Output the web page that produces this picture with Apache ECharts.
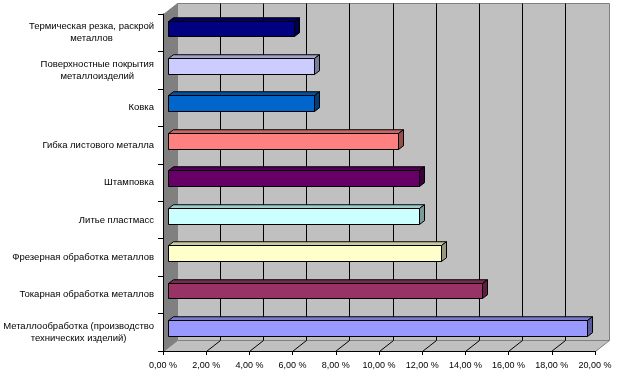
<!DOCTYPE html>
<html><head><meta charset="utf-8">
<script src="https://cdn.jsdelivr.net/npm/echarts@6/dist/echarts.min.js"></script>
<style>html,body{margin:0;padding:0;background:#fff}#c{width:617px;height:376px}</style>
</head><body><div id="c"></div>
<script>
// ---- data ----
const categories = [
  'Термическая резка, раскрой\nметаллов',
  'Поверхностные покрытия\nметаллоизделий',
  'Ковка',
  'Гибка листового металла',
  'Штамповка',
  'Литье пластмасс',
  'Фрезерная обработка металлов',
  'Токарная обработка металлов',
  'Металлообработка (производство\nтехнических изделий)'
];
const values = [5.85, 6.8, 6.8, 10.65, 11.65, 11.65, 12.65, 14.55, 19.4];
const barColors = ['#000080', '#CCCCFF', '#0066CC', '#FF8080', '#660066', '#CCFFFF', '#FFFFCC', '#993366', '#9999FF'];
const xTicks = [0, 2, 4, 6, 8, 10, 12, 14, 16, 18, 20];
const xTickLabels = ['0,00 %', '2,00 %', '4,00 %', '6,00 %', '8,00 %', '10,00 %', '12,00 %', '14,00 %', '16,00 %', '18,00 %', '20,00 %'];

// ---- styling ----
const FONT = 'Arial, "Liberation Sans", sans-serif';
const DEPTH = [14, -10.5];
const BAR_FRONT = [5, -3.75];
const BAR_DEPTH = [5, -3.75];

function shade(hex, f) {
  const n = parseInt(hex.slice(1), 16);
  const r = Math.round(((n >> 16) & 255) * f), g = Math.round(((n >> 8) & 255) * f), b = Math.round((n & 255) * f);
  return 'rgb(' + r + ',' + g + ',' + b + ')';
}
const px = v => Math.round(v - 0.5) + 0.5;

const wallSeries = {
  type: 'custom', z: 1, silent: true, clip: false,
  data: [[0, 0]],
  encode: { x: 0, y: 1 },
  renderItem: function (params, api) {
    const band = api.size([0, 1])[1];
    const p0 = api.coord([0, 0]);
    const pN = api.coord([0, categories.length - 1]);
    const top = p0[1] - band / 2, bot = pN[1] + band / 2;
    const left = p0[0], right = api.coord([xTicks[xTicks.length - 1], 0])[0];
    const dx = DEPTH[0], dy = DEPTH[1];
    const L = px(left), R = px(right), T = px(top), B = px(bot);
    const bT = px(top + dy), bB = px(bot + dy), bL = px(left + dx), bR = px(right + dx);
    const children = [
      { type: 'polygon', shape: { points: [[bL, bT], [bR, bT], [bR, bB], [bL, bB]] }, style: { fill: '#C0C0C0', stroke: '#808080', lineWidth: 1 } },
      { type: 'polygon', shape: { points: [[L, T], [bL, bT], [bL, bB], [L, B]] }, style: { fill: '#808080', stroke: '#808080', lineWidth: 1 } },
      { type: 'polygon', shape: { points: [[L, B], [R, B], [bR, bB], [bL, bB]] }, style: { fill: '#C0C0C0', stroke: '#808080', lineWidth: 1 } }
    ];
    xTicks.forEach(function (v, k) {
      if (k === 0 || k === xTicks.length - 1) return;
      const x = api.coord([v, 0])[0];
      children.push({ type: 'line', shape: { x1: px(x + dx), y1: bT, x2: px(x + dx), y2: bB }, style: { stroke: '#000', lineWidth: 1 } });
      children.push({ type: 'line', shape: { x1: px(x), y1: B, x2: px(x + dx), y2: bB }, style: { stroke: '#000', lineWidth: 1 } });
    });
    return { type: 'group', children: children };
  }
};

const barSeries = {
  type: 'custom', z: 3, clip: false,
  data: values.map((v, i) => [v, i]),
  encode: { x: 0, y: 1 },
  renderItem: function (params, api) {
    const v = api.value(0), i = api.value(1);
    const base = api.coord([0, i]);
    const end = api.coord([v, i]);
    const band = api.size([0, 1])[1];
    const h = band * 0.42;
    const x0 = px(base[0] + BAR_FRONT[0]), x1 = px(end[0] + BAR_FRONT[0]);
    const yT = px(base[1] + BAR_FRONT[1] - h / 2), yB = px(base[1] + BAR_FRONT[1] + h / 2);
    const dx = BAR_DEPTH[0], dy = BAR_DEPTH[1];
    const c = barColors[i];
    const st = { stroke: '#000', lineWidth: 1 };
    return {
      type: 'group', children: [
        { type: 'polygon', shape: { points: [[x0, yT], [x1, yT], [x1 + dx, yT + dy], [x0 + dx, yT + dy]] }, style: Object.assign({ fill: shade(c, 0.8) }, st) },
        { type: 'polygon', shape: { points: [[x1, yT], [x1 + dx, yT + dy], [x1 + dx, yB + dy], [x1, yB]] }, style: Object.assign({ fill: shade(c, 0.6) }, st) },
        { type: 'rect', shape: { x: x0, y: yT, width: x1 - x0, height: yB - yT }, style: Object.assign({ fill: c }, st) }
      ]
    };
  }
};

const chart = echarts.init(document.getElementById('c'), null, { renderer: 'canvas' });
chart.setOption({
  animation: false,
  backgroundColor: '#fff',
  grid: { left: 163, right: 22, top: 14, bottom: 25, containLabel: false, outerBoundsMode: 'none' },
  xAxis: {
    type: 'value', min: 0, max: 20, interval: 2, z: 5,
    axisLine: { show: true, lineStyle: { color: '#000', width: 1 } },
    axisTick: { show: true, length: 4, lineStyle: { color: '#000' } },
    splitLine: { show: false },
    axisLabel: {
      fontSize: 9, color: '#000', margin: 10, fontFamily: FONT, hideOverlap: false,
      formatter: function (v) { const k = xTicks.indexOf(v); return k >= 0 ? xTickLabels[k] : ''; }
    }
  },
  yAxis: {
    type: 'category', data: categories, inverse: true, z: 5,
    axisLine: { show: true, lineStyle: { color: '#000', width: 1 } },
    axisTick: { show: true, length: 5, lineStyle: { color: '#000' } },
    splitLine: { show: false },
    axisLabel: {
      fontSize: 9.5, color: '#000', margin: 9, fontFamily: FONT, lineHeight: 12, interval: 0,
      formatter: function (s) {
        const parts = s.split('\n');
        if (parts.length === 1) return s;
        return '{a|' + parts[0] + '}\n{b|' + parts[1] + '}';
      },
      rich: {
        a: { fontSize: 9.5, fontFamily: FONT, color: '#000', lineHeight: 12 },
        b: { fontSize: 9.5, fontFamily: FONT, color: '#000', lineHeight: 12, align: 'center' }
      }
    }
  },
  series: [wallSeries, barSeries]
});
</script>
</body></html>
